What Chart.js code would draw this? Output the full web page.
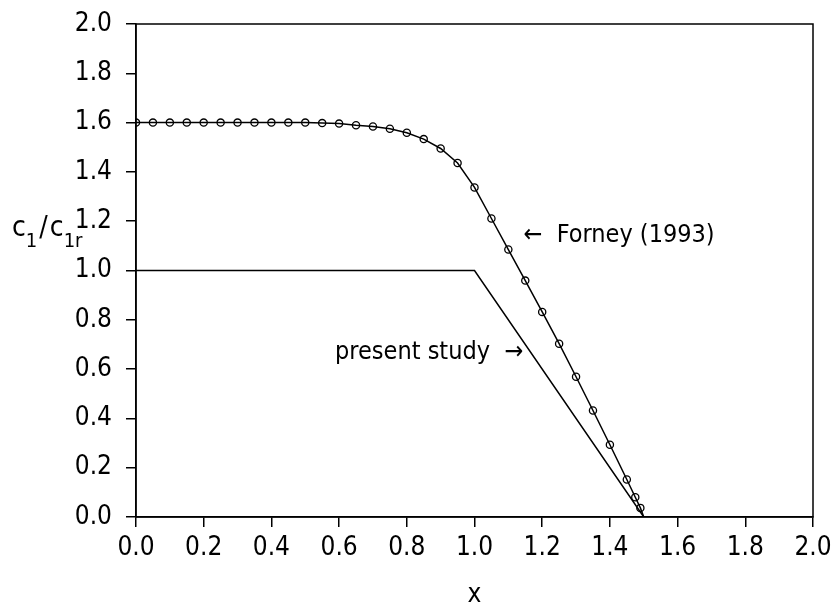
<!DOCTYPE html>
<html>
  <head>
    <meta charset="UTF-8" />
    <title>c1/c1r vs x</title>
    <script src="https://cdn.jsdelivr.net/npm/chart.js@4"></script>
    <style>
      html, body { margin: 0; padding: 0; background: #fff; }
    </style>
  </head>
  <body>
    <canvas id="chart" width="831" height="605"></canvas>
    <script>
      // Forney (1993) (last point only ends the line)
      const forneyX = [0, 0.05, 0.1, 0.15, 0.2, 0.25, 0.3, 0.35, 0.4, 0.45, 0.5,
        0.55, 0.6, 0.65, 0.7, 0.75, 0.8, 0.85, 0.9, 0.95, 1.0,
        1.05, 1.1, 1.15, 1.2, 1.25, 1.3, 1.35, 1.4, 1.45, 1.475, 1.49, 1.5]
      const forneyY = [1.6, 1.6, 1.6, 1.6, 1.6, 1.6, 1.6, 1.6, 1.6, 1.6, 1.6,
        1.598, 1.596, 1.589, 1.584, 1.575, 1.559, 1.533, 1.495, 1.436, 1.337,
        1.211, 1.085, 0.959, 0.832, 0.703, 0.569, 0.432, 0.293, 0.152, 0.080, 0.037, 0.0]
      // present study
      const presentX = [0, 1.0, 1.5]
      const presentY = [1.0, 1.0, 0.0]
      const tickValues = [0, 0.2, 0.4, 0.6, 0.8, 1.0, 1.2, 1.4, 1.6, 1.8, 2.0]

      const FONT = '"Liberation Sans Narrow", "DejaVu Sans Condensed", "Liberation Sans", sans-serif'

      const toPoints = function (xs, ys) {
        return xs.map((x, i) => ({ x: x, y: ys[i] }))
      }

      const noOverhang = function (s) {
        s.paddingTop = 0
        s.paddingBottom = 0
        s.paddingLeft = 0
        s.paddingRight = 0
      }

      // frame + labels that Chart.js has no place for
      const extras = {
        id: 'extras',
        afterDraw(chart) {
          const c = chart.ctx
          const a = chart.chartArea
          const sx = chart.scales.x
          const sy = chart.scales.y
          c.save()
          c.strokeStyle = '#000'
          c.lineWidth = 1.5
          c.strokeRect(a.left, a.top, a.right - a.left, a.bottom - a.top)

          c.fillStyle = '#000'
          c.textBaseline = 'alphabetic'
          c.textAlign = 'left'
          // y title c1/c1r
          let x = 12
          const base = 236
          const put = function (t, size, dy) {
            c.font = size + 'px ' + FONT
            c.fillText(t, x, base + dy)
            x += c.measureText(t).width
          }
          put('c', 28, 0)
          put('1', 20, 11)
          x += 2
          put('/', 28, 0)
          x += 2
          put('c', 28, 0)
          put('1r', 20, 11)

          // x title
          c.textAlign = 'center'
          c.font = '26px ' + FONT
          c.fillText('x', (a.left + a.right) / 2, 602)

          // annotations
          c.textAlign = 'left'
          c.font = '25px ' + FONT
          c.fillText('\u2190  Forney (1993)', sx.getPixelForValue(1.145), sy.getPixelForValue(1.115))
          c.fillText('present study  \u2192', sx.getPixelForValue(0.588), sy.getPixelForValue(0.64))
          c.restore()
        }
      }

      window.onload = function () {
        const ctx = document.querySelector('#chart').getContext('2d')
        window.chart = new Chart(ctx, {
          type: 'scatter',
          data: {
            datasets: [
              {
                label: 'Forney (1993)',
                data: toPoints(forneyX, forneyY),
                showLine: true,
                borderColor: '#000',
                borderWidth: 1.5,
                pointRadius: (c) => c.dataIndex === forneyX.length - 1 ? 0 : 3.6,
                pointBorderColor: '#000',
                pointBorderWidth: 1.3,
                pointBackgroundColor: 'rgba(0,0,0,0)',
                tension: 0,
              },
              {
                label: 'present study',
                data: toPoints(presentX, presentY),
                showLine: true,
                borderColor: '#000',
                borderWidth: 1.5,
                pointRadius: 0,
                tension: 0,
              },
            ],
          },
          options: {
            responsive: false,
            animation: false,
            layout: { padding: { top: 24, right: 18, left: 0, bottom: 0 } },
            plugins: {
              legend: { display: false },
              tooltip: { enabled: false },
            },
            scales: {
              x: {
                type: 'linear',
                min: 0,
                max: 2,
                afterBuildTicks: (s) => { s.ticks = tickValues.map(v => ({ value: v })) },
                afterFit: (s) => { s.height = 88; noOverhang(s) },
                ticks: {
                  color: '#000',
                  padding: 6,
                  font: { family: FONT, size: 26 },
                  callback: (v) => Number(v).toFixed(1),
                },
                grid: { drawOnChartArea: false, drawTicks: true, tickLength: 10, color: '#000', lineWidth: 1.5 },
                border: { display: true, color: '#000', width: 1.5 },
              },
              y: {
                type: 'linear',
                min: 0,
                max: 2,
                afterBuildTicks: (s) => { s.ticks = tickValues.map(v => ({ value: v })) },
                afterFit: (s) => { s.width = 136; noOverhang(s) },
                ticks: {
                  color: '#000',
                  padding: 14,
                  font: { family: FONT, size: 26 },
                  callback: (v) => Number(v).toFixed(1),
                },
                grid: { drawOnChartArea: false, drawTicks: true, tickLength: 10, color: '#000', lineWidth: 1.5 },
                border: { display: true, color: '#000', width: 1.5 },
              },
            },
          },
          plugins: [extras],
        })
      }
    </script>
  </body>
</html>
